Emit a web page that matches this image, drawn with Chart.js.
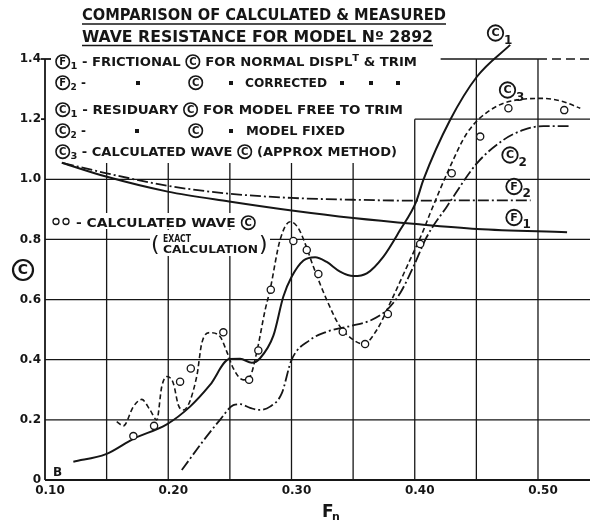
<!DOCTYPE html>
<html>
<head>
<meta charset="utf-8">
<style>
  html, body { margin: 0; padding: 0; background: #fff; }
  #wrap { width: 590px; height: 521px; position: relative; }
</style>
</head>
<body>
<div id="wrap"><canvas id="chart"></canvas></div>
<script src="https://cdn.jsdelivr.net/npm/chart.js@4.4.0/dist/chart.umd.min.js"></script>
<script>
// ---- data (Fn, C) ----
const f1X = [0.1136, 0.1495, 0.1996, 0.2494, 0.3002, 0.3502, 0.4011, 0.4504, 0.5236];
const f1Y = [1.055, 1.009, 0.959, 0.926, 0.896, 0.871, 0.851, 0.835, 0.824];

const f2X = [0.1146, 0.15, 0.20, 0.25, 0.30, 0.35, 0.40, 0.45, 0.494];
const f2Y = [1.054, 1.02, 0.978, 0.952, 0.938, 0.932, 0.929, 0.93, 0.93];

const c1X = [0.123, 0.1495, 0.1717, 0.1988, 0.2177, 0.2339, 0.2496, 0.2583, 0.2678, 0.2745, 0.2853, 0.2934,
             0.30, 0.3097, 0.3192, 0.3286, 0.3394, 0.3502, 0.3611, 0.3746, 0.3881, 0.4011, 0.407, 0.4287, 0.4504, 0.4774];
const c1Y = [0.061, 0.086, 0.137, 0.185, 0.244, 0.316, 0.402, 0.403, 0.39, 0.405, 0.48, 0.61,
             0.675, 0.73, 0.741, 0.725, 0.693, 0.678, 0.687, 0.743, 0.831, 0.925, 0.998, 1.197, 1.341, 1.447];

const c2X = [0.211, 0.228, 0.242, 0.2528, 0.2583, 0.2664, 0.2731, 0.2826, 0.2921, 0.30, 0.3151, 0.3286,
             0.3476, 0.3638, 0.3773, 0.3881, 0.3989, 0.4098, 0.426, 0.4504, 0.472, 0.4882, 0.5044, 0.5248];
const c2Y = [0.033, 0.128, 0.2, 0.249, 0.252, 0.24, 0.233, 0.244, 0.288, 0.399, 0.466, 0.493,
             0.512, 0.53, 0.565, 0.621, 0.709, 0.809, 0.909, 1.053, 1.131, 1.164, 1.177, 1.177];

const c3X = [0.1582, 0.1636, 0.1717, 0.1785, 0.1852, 0.1907, 0.1947, 0.1988, 0.2041, 0.2082, 0.2123, 0.2231,
             0.2272, 0.2339, 0.242, 0.2475, 0.2528, 0.261, 0.2664, 0.2718, 0.2786, 0.2826, 0.2907, 0.2989,
             0.3056, 0.311, 0.3178, 0.3286, 0.3394, 0.3502, 0.3584, 0.3692, 0.38, 0.3936, 0.4071, 0.4125,
             0.4287, 0.4423, 0.4612, 0.4829, 0.5044, 0.5207, 0.5343];
const c3Y = [0.194, 0.18, 0.244, 0.268, 0.233, 0.2, 0.31, 0.344, 0.322, 0.249, 0.233, 0.344,
             0.455, 0.49, 0.477, 0.427, 0.371, 0.333, 0.344, 0.425, 0.565, 0.632, 0.798, 0.859,
             0.837, 0.787, 0.709, 0.599, 0.51, 0.466, 0.452, 0.499, 0.588, 0.709, 0.831, 0.887,
             1.042, 1.153, 1.23, 1.264, 1.269, 1.258, 1.236];

// calculated wave C, exact calculation (open circles)
const exactX = [0.1717, 0.1885, 0.2096, 0.2183, 0.2447, 0.2656, 0.2731, 0.2832, 0.3015, 0.3124,
                0.3218, 0.3416, 0.3597, 0.3782, 0.4044, 0.43, 0.4531, 0.476, 0.5213];
const exactY = [0.146, 0.18, 0.327, 0.371, 0.491, 0.333, 0.431, 0.633, 0.795, 0.765,
                0.685, 0.493, 0.452, 0.552, 0.785, 1.02, 1.142, 1.236, 1.23];

const xTickVals = [0.10, 0.20, 0.30, 0.40, 0.50];
const xTickLabels = ['0.10', '0.20', '0.30', '0.40', '0.50'];
const yTickVals = [0, 0.2, 0.4, 0.6, 0.8, 1.0, 1.2, 1.4];
const yTickLabels = ['0', '0.2', '0.4', '0.6', '0.8', '1.0', '1.2', '1.4'];

// grid segments as drawn on the sheet (the lettering area is left blank)
const gridXs = [0.15, 0.20, 0.25, 0.30, 0.35, 0.40, 0.45, 0.50];
const gridXTop = [1.054, 1.054, 1.054, 1.054, 1.054, 1.2, 1.4, 1.4];
const gridYs = [0.2, 0.4, 0.6, 0.8, 1.0, 1.2, 1.4];
const gridYFrom = [0.10, 0.10, 0.10, 0.10, 0.10, 0.40, 0.421];

const ink = '#161616';
const FONT = '"DejaVu Sans", sans-serif';

const pts = (xs, ys) => xs.map((x, i) => ({ x: x, y: ys[i] }));

function curve(label, xs, ys, dash, width) {
  return {
    label: label,
    data: pts(xs, ys),
    showLine: true,
    borderColor: ink,
    borderWidth: width,
    borderDash: dash,
    pointRadius: 0,
    cubicInterpolationMode: 'monotone',
    fill: false,
    clip: false
  };
}

function circled(ctx, letter, cx, cy, d, lw) {
  ctx.save();
  ctx.beginPath();
  ctx.arc(cx, cy, d / 2, 0, Math.PI * 2);
  ctx.fillStyle = '#fff';
  ctx.fill();
  ctx.lineWidth = lw || 1.6;
  ctx.strokeStyle = ink;
  ctx.stroke();
  ctx.fillStyle = ink;
  ctx.font = 'bold ' + Math.round(d * 0.72) + 'px ' + FONT;
  ctx.textAlign = 'center';
  ctx.textBaseline = 'middle';
  ctx.fillText(letter, cx, cy + 0.5);
  ctx.restore();
}

// draws a row of lettering; runs: {k: 't'|'sub'|'sup'|'circ'|'sq', t, at, w}
function drawRuns(ctx, runs, x0, base, size, target) {
  const fText = 'bold ' + size + 'px ' + FONT;
  const fSmall = 'bold ' + Math.round(size * 0.78) + 'px ' + FONT;
  const circD = size * 1.12;
  const widthOf = (r) => {
    if (r.k === 'circ') return circD + 2;
    if (r.k === 'sq') return 8;
    ctx.font = (r.k === 'sub' || r.k === 'sup') ? fSmall : fText;
    return ctx.measureText(r.t).width;
  };
  let fixed = 0, txt = 0;
  runs.forEach((r) => {
    const w = widthOf(r);
    if (r.k === 'circ' || r.k === 'sq') fixed += w; else txt += w;
  });
  const sx = target ? (target - fixed) / txt : 1;
  let x = x0;
  ctx.fillStyle = ink;
  ctx.textAlign = 'left';
  ctx.textBaseline = 'alphabetic';
  runs.forEach((r) => {
    if (r.at !== undefined) x = r.at;
    const w = widthOf(r);
    if (r.k === 'circ') {
      circled(ctx, r.t, x + 1 + circD / 2, base - size * 0.36, circD);
      x += w;
    } else if (r.k === 'sq') {
      ctx.fillRect(x + 2, base - size * 0.5, 4, 4);
      x += w;
    } else {
      const s = r.w ? r.w / w : sx;
      ctx.font = (r.k === 'sub' || r.k === 'sup') ? fSmall : fText;
      const dy = r.k === 'sub' ? size * 0.22 : (r.k === 'sup' ? -size * 0.42 : 0);
      ctx.save();
      ctx.translate(x, base + dy);
      ctx.scale(s, 1);
      ctx.fillText(r.t, 0, 0);
      ctx.restore();
      x += w * s;
    }
  });
}

const T = (t, at, w) => ({ k: 't', t: t, at: at, w: w });

const legendRows = [
  { x: 55, y: 66, w: 362, runs: [{ k: 'circ', t: 'F' }, { k: 'sub', t: '1' }, T(' - FRICTIONAL '), { k: 'circ', t: 'C' },
                                 T(' FOR NORMAL DISPL'), { k: 'sup', t: 'T' }, T(' & TRIM')] },
  { x: 55, y: 87, runs: [{ k: 'circ', t: 'F' }, { k: 'sub', t: '2' }, T(' -'), { k: 'sq', at: 134 }, { k: 'circ', t: 'C', at: 188 },
                         { k: 'sq', at: 227 }, T('CORRECTED', 245, 82), { k: 'sq', at: 338 }, { k: 'sq', at: 367 }, { k: 'sq', at: 394 }] },
  { x: 55, y: 114, w: 348, runs: [{ k: 'circ', t: 'C' }, { k: 'sub', t: '1' }, T(' - RESIDUARY '), { k: 'circ', t: 'C' },
                                  T(' FOR MODEL FREE TO TRIM')] },
  { x: 55, y: 135, runs: [{ k: 'circ', t: 'C' }, { k: 'sub', t: '2' }, T(' -'), { k: 'sq', at: 133 }, { k: 'circ', t: 'C', at: 188 },
                          { k: 'sq', at: 227 }, T('MODEL FIXED', 246, 99)] },
  { x: 55, y: 156, w: 342, runs: [{ k: 'circ', t: 'C' }, { k: 'sub', t: '3' }, T(' - CALCULATED WAVE '), { k: 'circ', t: 'C' },
                                  T(' (APPROX METHOD)')] }
];

const sheetPlugin = {
  id: 'sheet',
  beforeDatasetsDraw(chart) {
    const { ctx, chartArea: a, scales: { x, y } } = chart;
    const edge = chart.width;
    const seg = (x1, y1, x2, y2) => { ctx.beginPath(); ctx.moveTo(x1, y1); ctx.lineTo(x2, y2); ctx.stroke(); };
    ctx.save();
    ctx.strokeStyle = ink;
    ctx.lineWidth = 1.3;
    gridXs.forEach((v, i) => {
      const px = x.getPixelForValue(v);
      seg(px, a.bottom, px, y.getPixelForValue(gridXTop[i]));
    });
    gridYs.forEach((v, i) => {
      const py = y.getPixelForValue(v);
      if (v === 1.4) {
        // top line fades into a broken line past the last ruling
        seg(x.getPixelForValue(gridYFrom[i]), py, x.getPixelForValue(0.50), py);
        ctx.setLineDash([9, 5]);
        seg(x.getPixelForValue(0.50), py, edge, py);
        ctx.setLineDash([]);
      } else {
        seg(x.getPixelForValue(gridYFrom[i]), py, edge, py);
      }
    });
    ctx.lineWidth = 1.8;
    seg(a.left, a.bottom, edge, a.bottom);
    seg(a.left, a.bottom, a.left, a.top);
    seg(a.left - 4, y.getPixelForValue(1.4), a.left + 6, y.getPixelForValue(1.4));
    seg(a.left - 4, y.getPixelForValue(1.2), a.left, y.getPixelForValue(1.2));
    // paper showing through behind the lettering inside the grid
    ctx.fillStyle = '#fff';
    ctx.fillRect(50, 213, 208, 16);
    ctx.fillRect(150, 230, 120, 26);
    ctx.restore();
  },
  afterDatasetsDraw(chart) {
    const ctx = chart.ctx;
    ctx.save();
    ctx.fillStyle = ink;
    ctx.strokeStyle = ink;

    // title
    drawRuns(ctx, [T('COMPARISON OF CALCULATED & MEASURED')], 82, 20, 16, 364);
    drawRuns(ctx, [T('WAVE RESISTANCE FOR MODEL Nº 2892')], 82, 42, 16, 351);
    ctx.lineWidth = 1.6;
    ctx.beginPath(); ctx.moveTo(82, 24); ctx.lineTo(446, 24); ctx.stroke();
    ctx.beginPath(); ctx.moveTo(82, 45.5); ctx.lineTo(433, 45.5); ctx.stroke();

    // key
    legendRows.forEach((row) => drawRuns(ctx, row.runs, row.x, row.y, 12, row.w));

    // exact-calculation note
    ctx.lineWidth = 1.3;
    [56, 66].forEach((cx) => { ctx.beginPath(); ctx.arc(cx, 221.5, 3, 0, Math.PI * 2); ctx.stroke(); });
    drawRuns(ctx, [T('- CALCULATED WAVE '), { k: 'circ', t: 'C' }], 76, 227, 12, 180);
    ctx.font = '22px ' + FONT;
    ctx.textAlign = 'left';
    ctx.textBaseline = 'alphabetic';
    ctx.fillText('(', 151, 251);
    ctx.fillText(')', 259, 251);
    drawRuns(ctx, [T('EXACT')], 163, 242, 10, 28);
    drawRuns(ctx, [T('CALCULATION')], 163, 253, 11, 95);

    // curve names
    const tag = (letter, sub, cx, cy) => {
      circled(ctx, letter, cx, cy, 15.5, 1.8);
      ctx.font = 'bold 12px ' + FONT;
      ctx.textAlign = 'left';
      ctx.textBaseline = 'alphabetic';
      ctx.fillText(sub, cx + 8.5, cy + 10.5);
    };
    tag('C', '1', 495.5, 33);
    tag('C', '3', 507.5, 90);
    tag('C', '2', 510, 155);
    tag('F', '2', 514, 186.5);
    tag('F', '1', 514, 217.5);

    // axis names
    circled(ctx, 'C', 23, 270, 20, 2.2);
    ctx.font = 'bold 17px ' + FONT;
    ctx.textAlign = 'left';
    ctx.textBaseline = 'alphabetic';
    ctx.fillText('F', 322, 517);
    ctx.font = 'bold 11px ' + FONT;
    ctx.fillText('n', 332, 520);
    ctx.font = 'bold 12px ' + FONT;
    ctx.fillText('B', 53, 476);
    ctx.restore();
  }
};

const tickFont = { family: FONT, size: 12, weight: 'bold' };

new Chart(document.getElementById('chart'), {
  type: 'scatter',
  data: {
    datasets: [
      {
        label: 'Calculated wave C (exact calculation)',
        data: pts(exactX, exactY),
        showLine: false,
        pointRadius: 3.6,
        pointBorderWidth: 1.3,
        borderColor: ink,
        backgroundColor: '#fff',
        clip: false
      },
      curve('F1 - frictional C for normal displ. & trim', f1X, f1Y, [], 2),
      curve('F2 - frictional C corrected', f2X, f2Y, [11, 3, 2, 3], 1.8),
      curve('C1 - residuary C for model free to trim', c1X, c1Y, [], 2),
      curve('C2 - residuary C for model fixed', c2X, c2Y, [11, 3, 2, 3], 1.8),
      curve('C3 - calculated wave C (approx method)', c3X, c3Y, [5, 3], 1.6)
    ]
  },
  options: {
    responsive: true,
    maintainAspectRatio: false,
    animation: false,
    devicePixelRatio: 1,
    events: [],
    layout: { padding: { top: 59, left: 0, right: 0, bottom: 0 } },
    plugins: { legend: { display: false }, tooltip: { enabled: false } },
    scales: {
      x: {
        type: 'linear',
        min: 0.10,
        max: 0.5379,
        afterBuildTicks: (scale) => { scale.ticks = xTickVals.map((v) => ({ value: v })); },
        afterFit: (scale) => { scale.height = 41; },
        grid: { display: false, drawTicks: false },
        border: { display: false },
        ticks: {
          color: ink,
          font: tickFont,
          padding: 4,
          labelOffset: 5,
          autoSkip: false,
          maxRotation: 0,
          minRotation: 0,
          callback: (v, i) => xTickLabels[i]
        }
      },
      y: {
        type: 'linear',
        min: 0,
        max: 1.4,
        afterBuildTicks: (scale) => { scale.ticks = yTickVals.map((v) => ({ value: v })); },
        afterFit: (scale) => { scale.width = 45; },
        grid: { display: false, drawTicks: false },
        border: { display: false },
        ticks: {
          color: ink,
          font: tickFont,
          padding: 4,
          autoSkip: false,
          callback: (v, i) => yTickLabels[i]
        }
      }
    }
  },
  plugins: [sheetPlugin]
});
</script>
</body>
</html>
